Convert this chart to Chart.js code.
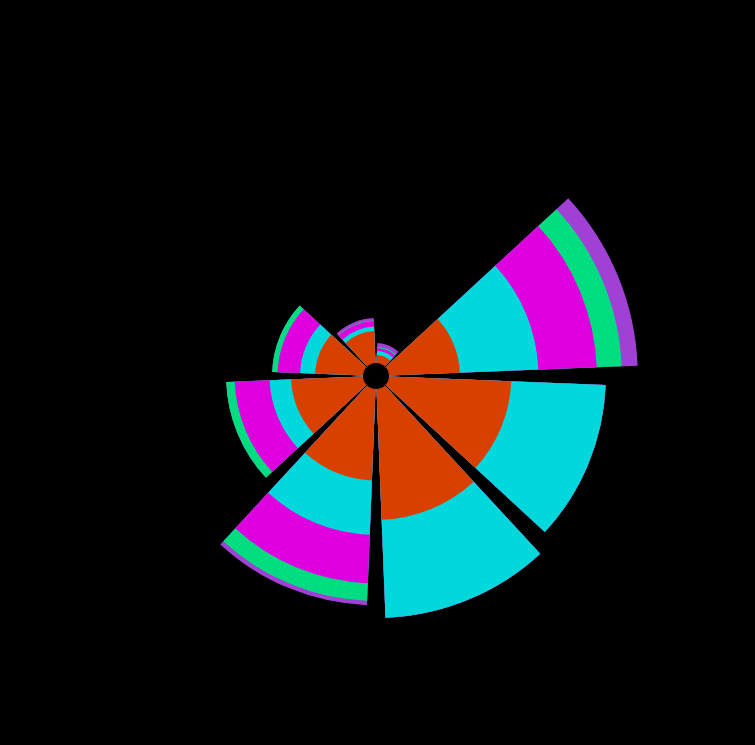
<!DOCTYPE html>
<html>
<head>
<meta charset="utf-8">
<title>Rose</title>
<script src="https://cdn.jsdelivr.net/npm/chart.js@4.4.1/dist/chart.umd.min.js"></script>
<style>
    html, body { margin: 0; padding: 0; background: #000; }
    #wrap { width: 755px; height: 745px; position: relative; }
</style>
</head>
<body>
<div id="wrap"><canvas id="rose"></canvas></div>
<script>
// settori, in senso orario a partire dal nord
const directions = ["NNE", "ENE", "ESE", "SSE", "SSW", "WSW", "WNW", "NNW"];

// valori di ogni classe (non cumulati)
const band1 = [0.62, 5.46, 9.42, 10.08, 7.04, 5.54, 3.69, 2.46];
const band2 = [0.31, 6.04, 7.27, 7.54, 4.19, 1.65, 1.16, 0.35];
const band3 = [0.23, 4.50, 0.00, 0.00, 3.73, 2.69, 1.73, 0.42];
const band4 = [0.08, 1.92, 0.00, 0.00, 1.35, 0.66, 0.42, 0.04];
const band5 = [0.31, 1.23, 0.00, 0.00, 0.34, 0.00, 0.00, 0.19];

const bandNames = ["Class 1", "Class 2", "Class 3", "Class 4", "Class 5"];
const bandColors = ["#d84000", "#00d8dc", "#de00de", "#00dc80", "#a040d4"];

// ogni settore e' seguito da uno spazio vuoto
function withGaps(values) {
    const out = [];
    values.forEach((v) => {
        out.push(v);
        out.push(0);
    });
    return out;
}

function buildDatasets() {
    const bands = [band1, band2, band3, band4, band5];
    const running = directions.map(() => 0);
    return bands.map((band, i) => {
        const cumulated = band.map((v, k) => (running[k] += v));
        return {
            label: bandNames[i],
            data: withGaps(cumulated.slice()),
            backgroundColor: (ctx) =>
                ctx.dataIndex % 2 === 0 ? bandColors[i] : "rgba(0,0,0,0)",
            borderWidth: 0,
            angle: (ctx) => (ctx.dataIndex % 2 === 0 ? 40.5 : 4.5),
        };
    });
}

// foro centrale, nel punto dello zero della scala
const holePlugin = {
    id: "hole",
    afterDatasetsDraw(chart) {
        const scale = chart.scales.r;
        const ctx = chart.ctx;
        ctx.save();
        ctx.fillStyle = "#000";
        ctx.beginPath();
        ctx.arc(scale.xCenter, scale.yCenter, scale.getDistanceFromCenterForValue(0), 0, Math.PI * 2);
        ctx.fill();
        ctx.restore();
    },
};

const labels = [];
directions.forEach((d) => {
    labels.push(d);
    labels.push("");
});

new Chart(document.getElementById("rose"), {
    type: "polarArea",
    data: {
        labels: labels,
        datasets: buildDatasets(),
    },
    options: {
        responsive: true,
        maintainAspectRatio: false,
        animation: false,
        layout: { padding: { top: 7, right: 2 } },
        plugins: {
            legend: { display: false },
            tooltip: { enabled: false },
        },
        scales: {
            r: {
                display: false,
                min: -1,
                max: 27.4,
                startAngle: 2.25,
            },
        },
    },
    plugins: [holePlugin],
});
</script>
</body>
</html>
